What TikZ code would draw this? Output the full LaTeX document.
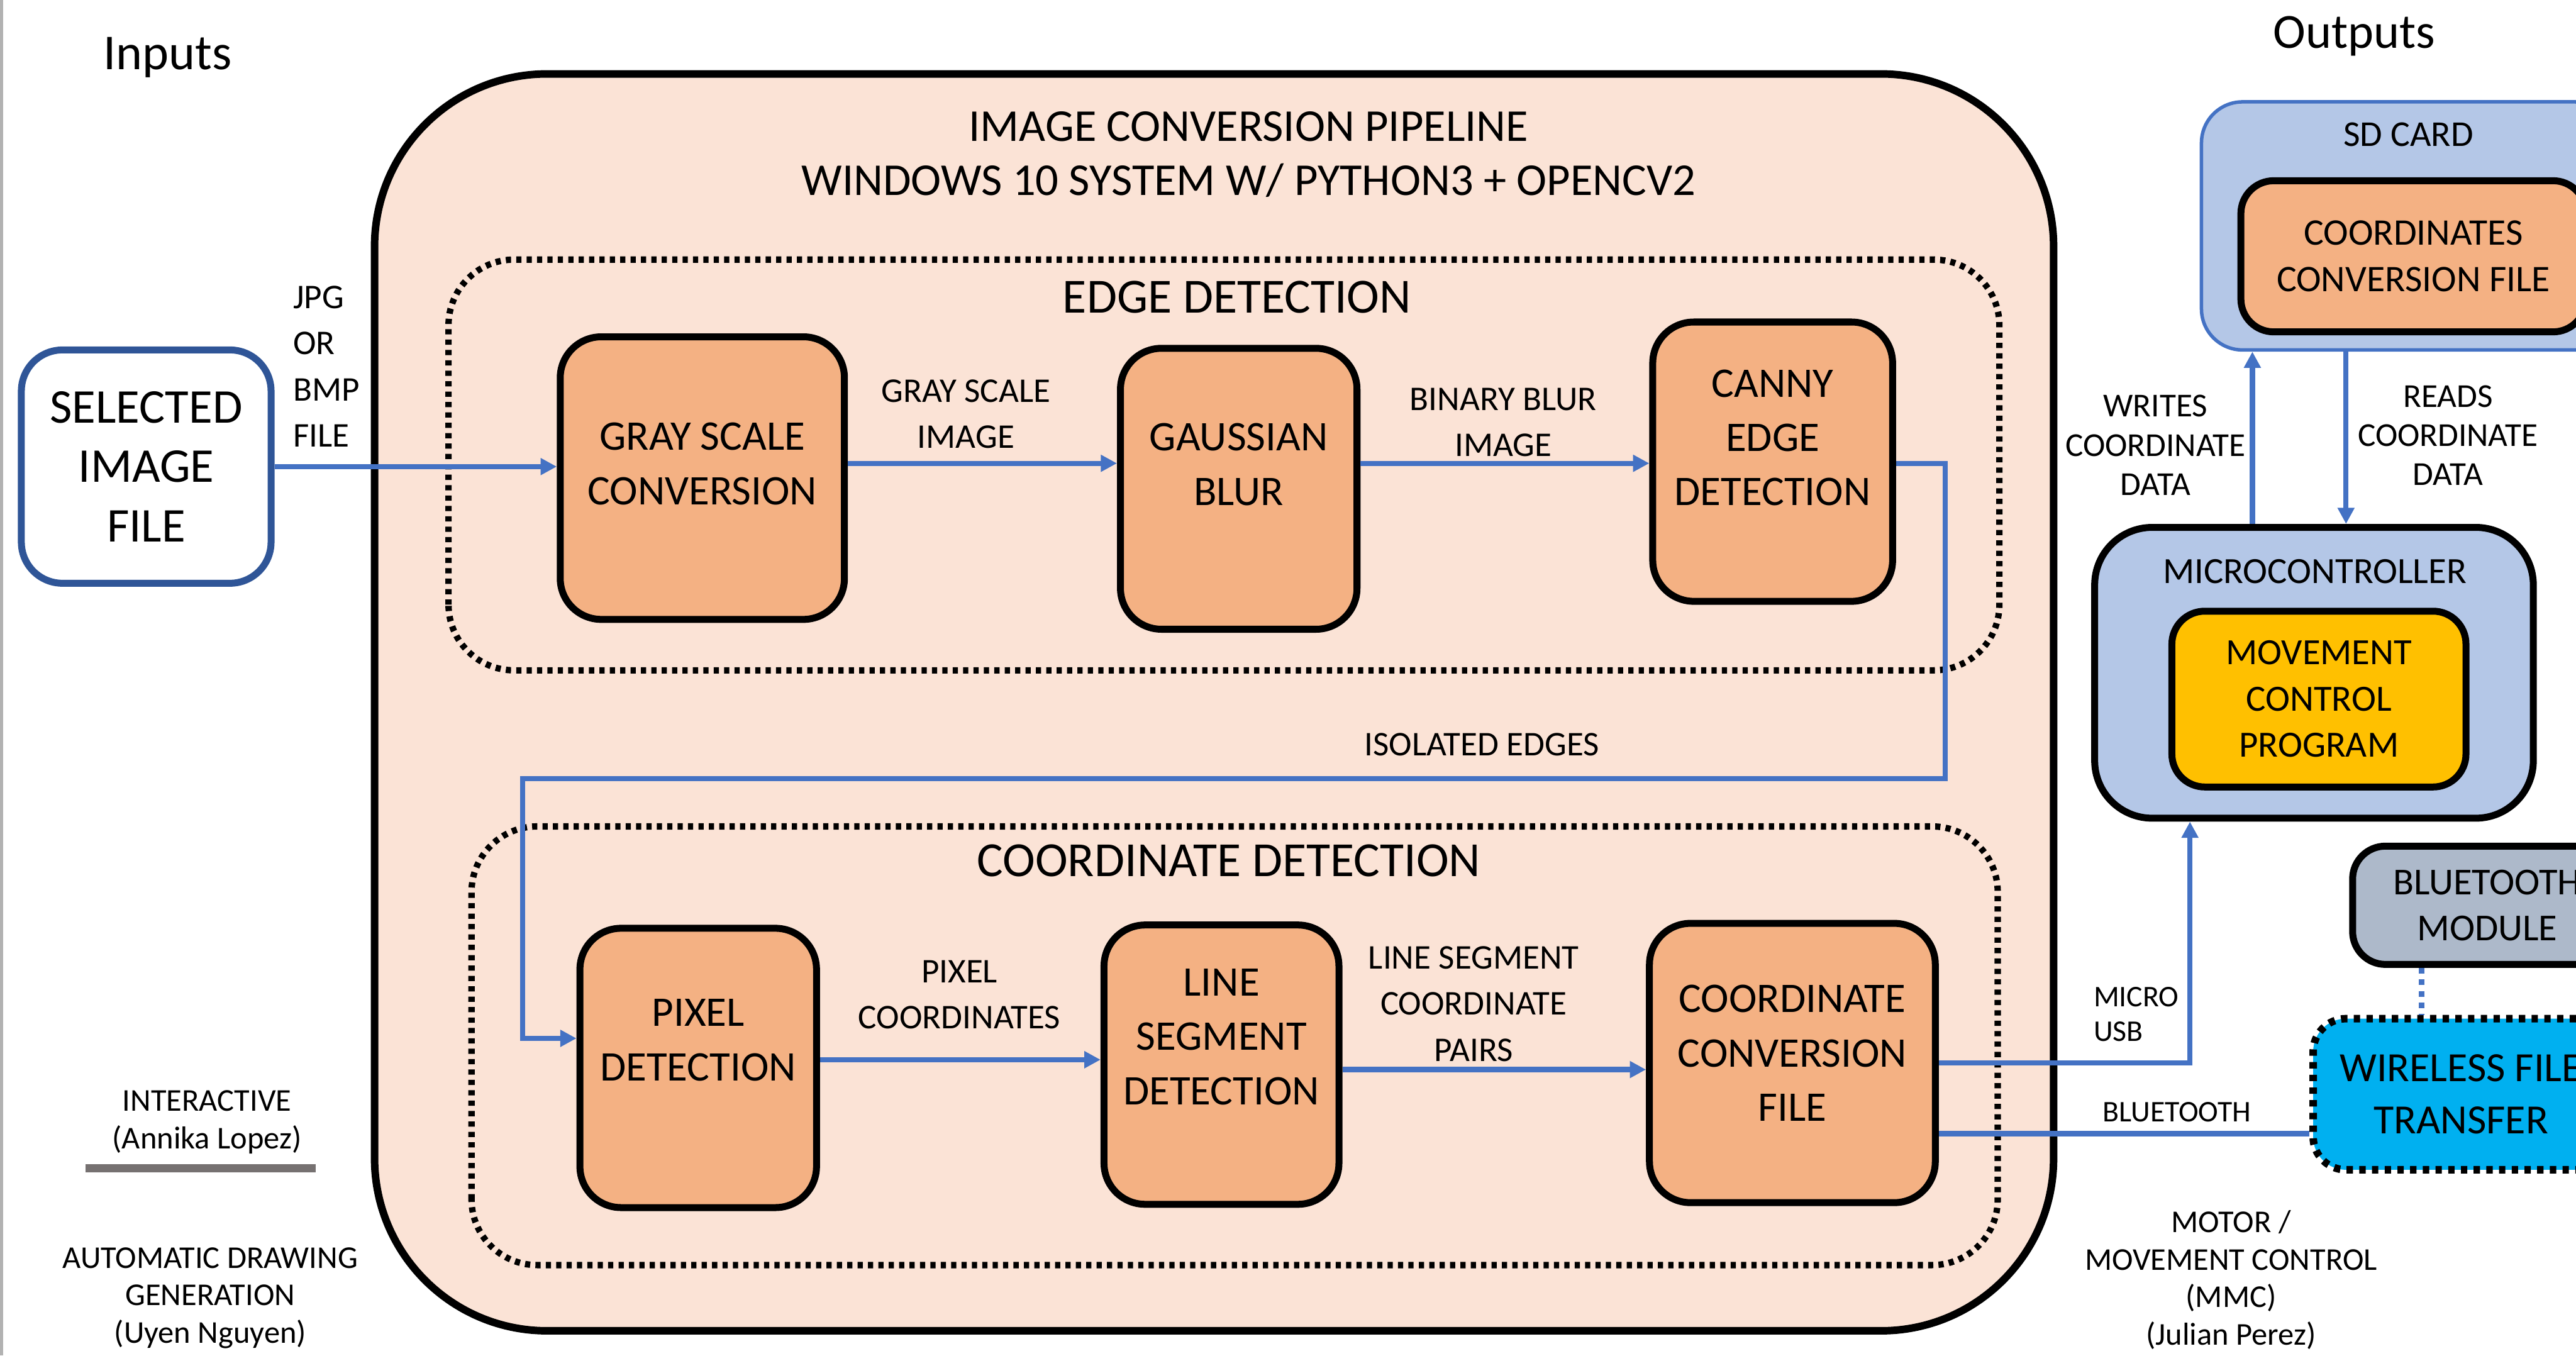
\documentclass[tikz,border=0pt]{standalone}
\usepackage{fontspec}
\setmainfont{Carlito}
\usepackage{xcolor}
\definecolor{colPipe}{HTML}{FBE3D6}
\definecolor{colProc}{HTML}{F4B183}
\definecolor{colArrow}{HTML}{4472C4}
\definecolor{colEdge}{HTML}{2F5597}
\definecolor{colChip}{HTML}{B4C7E7}
\definecolor{colMove}{HTML}{FFC000}
\definecolor{colModule}{HTML}{ADB9CA}
\definecolor{colWire}{HTML}{00B0F0}
\definecolor{colBar}{HTML}{767171}
\usetikzlibrary{arrows.meta, positioning, calc}

\newcommand{\fsz}[2]{\fontsize{#1}{#2}\selectfont}

\begin{document}
\begin{tikzpicture}[
    proc/.style={draw, line width=1.2pt, fill=colProc, rounded corners=0.25cm,
                 align=center, inner sep=0pt, font=\fsz{7.3}{9.4}},
    chip/.style={draw, line width=1.2pt, rounded corners=0.3cm, inner sep=0pt, align=center},
    flow/.style={-{Triangle[length=2.8pt,width=2.8pt]}, colArrow, line width=0.9pt},
    wire/.style={colArrow, line width=0.9pt},
    group/.style={line width=1.1pt, dash pattern=on 0.9pt off 0.9pt, rounded corners=0.4cm},
    lbl/.style={align=center, font=\fsz{6}{8}},
    note/.style={align=center, font=\fsz{5.5}{6.5}}
  ]
    \clip (0,0) rectangle (15.68,8.25);
    \path[use as bounding box] (0,0) rectangle (15.68,8.25);
    \draw[gray!60, line width=0.5pt] (0.01,0) -- (0.01,8.25);

    % === Inputs ===
    \node[font=\fsz{8.7}{10}] (inputs) at (1.02,7.90) {Inputs};
    \node[draw=colEdge, line width=1.2pt, rounded corners=0.25cm, fill=white,
          minimum width=1.52cm, minimum height=1.42cm, align=center,
          font=\fsz{8.4}{10.3}] (sel) at (0.89,5.41) {SELECTED\\IMAGE\\FILE};
    \node[lbl, align=left, anchor=west] (fmt) at (1.66,6.02) {JPG\\OR\\BMP\\FILE};

    % === Pipeline ===
    \draw[line width=1.3pt, fill=colPipe, rounded corners=1.05cm] (2.28,0.15) rectangle (12.50,7.80);
    \node[align=center, font=\fsz{7.9}{9.4}] (pipe) at (7.60,7.31)
        {IMAGE CONVERSION PIPELINE\\WINDOWS 10 SYSTEM W/ PYTHON3 + OPENCV2};

    % Edge detection
    \draw[group] (2.73,4.17) rectangle (12.17,6.67);
    \node[font=\fsz{8.5}{10}] (edgeT) at (7.53,6.44) {EDGE DETECTION};
    \node[proc, text depth=5pt, minimum width=1.73cm, minimum height=1.72cm] (gray) at (4.275,5.34) {GRAY SCALE\\CONVERSION};
    \node[proc, text depth=8.5pt, minimum width=1.44cm, minimum height=1.71cm] (gauss) at (7.54,5.275) {GAUSSIAN\\BLUR};
    \node[proc, text depth=8.3pt, minimum width=1.46cm, minimum height=1.70cm] (canny) at (10.79,5.44) {CANNY\\EDGE\\DETECTION};
    \node[lbl] (grayL) at (5.88,5.73) {GRAY SCALE\\IMAGE};
    \node[lbl] (blurL) at (9.15,5.68) {BINARY BLUR\\IMAGE};

    % Coordinate detection
    \draw[group] (2.87,0.55) rectangle (12.16,3.22);
    \node[font=\fsz{8.5}{10}] (coordT) at (7.48,3.01) {COORDINATE DETECTION};
    \node[proc, text depth=9.7pt, minimum width=1.44cm, minimum height=1.70cm] (pixel) at (4.25,1.75) {PIXEL\\DETECTION};
    \node[proc, text depth=9.7pt, minimum width=1.43cm, minimum height=1.70cm] (line) at (7.435,1.77) {LINE\\SEGMENT\\DETECTION};
    \node[proc, text depth=3.4pt, minimum width=1.74cm, minimum height=1.70cm] (coord) at (10.91,1.78) {COORDINATE\\CONVERSION\\FILE};
    \node[lbl] (pixL) at (5.84,2.195) {PIXEL\\COORDINATES};
    \node[lbl] (segL) at (8.97,2.14) {LINE SEGMENT\\COORDINATE\\PAIRS};
    \node[lbl] (isoL) at (9.02,3.72) {ISOLATED EDGES};

    % === Outputs ===
    \node[font=\fsz{8.5}{10}] (outputs) at (14.33,8.03) {Outputs};
    \node[draw=colArrow, line width=0.6pt, fill=colChip, rounded corners=0.25cm,
          minimum width=2.52cm, minimum height=1.51cm] (sd) at (14.66,6.875) {};
    \node[font=\fsz{6.3}{8}] (sdT) at (14.66,7.43) {SD CARD};
    \node[chip, fill=colProc, rounded corners=0.2cm, minimum width=2.10cm, minimum height=0.92cm,
          font=\fsz{6.5}{8}] (file) at (14.69,6.69) {COORDINATES\\CONVERSION FILE};

    \node[chip, fill=colChip, rounded corners=0.35cm, minimum width=2.67cm, minimum height=1.77cm] (micro) at (14.085,4.155) {};
    \node[font=\fsz{6.4}{8}] (microT) at (14.09,4.77) {MICROCONTROLLER};
    \node[chip, fill=colMove, rounded corners=0.2cm, minimum width=1.79cm, minimum height=1.07cm,
          font=\fsz{6.4}{8}] (move) at (14.115,3.995) {MOVEMENT\\CONTROL\\PROGRAM};

    \node[chip, fill=colModule, rounded corners=0.2cm, minimum width=1.64cm, minimum height=0.72cm,
          font=\fsz{6.6}{8}] (bt) at (15.14,2.74) {BLUETOOTH\\MODULE};
    \node[chip, fill=colWire, line width=1.3pt, dash pattern=on 1.1pt off 1.1pt, rounded corners=0.2cm,
          minimum width=1.80cm, minimum height=0.92cm, font=\fsz{7.2}{9.1}] (wire) at (14.98,1.59)
          {WIRELESS FILE\\TRANSFER};

    \node[note, font=\fsz{5.8}{6.8}] (wrL) at (13.12,5.54) {WRITES\\COORDINATE\\DATA};
    \node[note, font=\fsz{5.8}{6.8}] (rdL) at (14.90,5.60) {READS\\COORDINATE\\DATA};
    \node[note, align=left, anchor=west, font=\fsz{5.2}{6}] (usbL) at (12.62,2.075) {MICRO\\USB};
    \node[note, font=\fsz{5.2}{6}] (btL) at (13.25,1.48) {BLUETOOTH};
    \node[note] (mmc) at (13.58,0.46) {MOTOR /\\MOVEMENT CONTROL\\(MMC)\\(Julian Perez)};

    % Legenda
    \node[note] (inter) at (1.26,1.42) {INTERACTIVE\\(Annika Lopez)};
    \fill[colBar] (0.52,1.115) rectangle (1.92,1.165);
    \node[note] (auto) at (1.28,0.35) {AUTOMATIC DRAWING\\GENERATION\\(Uyen Nguyen)};

    % === Connectors ===
    \coordinate (rowA) at (0,5.43);
    \coordinate (isoR) at (11.84,3.51);
    \coordinate (isoW) at (3.18,3.51);
    \coordinate (rowB) at (0,1.93);
    \coordinate (usb) at (13.33,1.78);
    \coordinate (btRow) at (0,1.35);
    \coordinate (wx) at (13.71,0);
    \coordinate (rx) at (14.28,0);
    \coordinate (lk) at (14.74,0);

    \draw[flow] (sel.east) -- (gray.west |- sel.east);
    \draw[flow] (gray.east |- rowA) -- (gauss.west |- rowA);
    \draw[flow] (gauss.east |- rowA) -- (canny.west |- rowA);
    \draw[flow] (canny.east |- rowA) -| (isoR) -- (isoW) |- (pixel.west |- rowB);
    \draw[flow] (pixel.east |- 0,1.80) -- (line.west |- 0,1.80);
    \draw[flow] (line.east |- 0,1.74) -- (coord.west |- 0,1.74);
    \draw[flow] (coord.east |- usb) -| (micro.south -| usb);
    \draw[wire] (coord.east |- btRow) -- (wire.west |- btRow);
    \draw[flow] (micro.north -| wx) -- (sd.south -| wx);
    \draw[flow] (sd.south -| rx) -- (micro.north -| rx);
    \draw[wire, dash pattern=on 1pt off 1pt] (bt.south -| lk) -- (wire.north -| lk);
\end{tikzpicture}
\end{document}
